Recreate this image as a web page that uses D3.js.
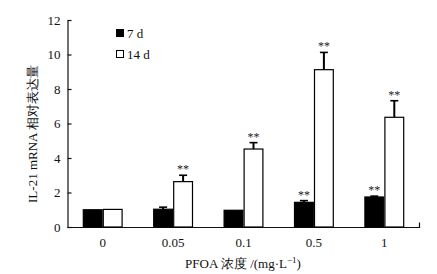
<!DOCTYPE html>
<html><head><meta charset="utf-8">
<script src="https://cdn.jsdelivr.net/npm/d3@7/dist/d3.min.js"></script>
<style>body{margin:0;background:#fff}svg{display:block}</style>
</head><body>
<script>
const categories = ["0", "0.05", "0.1", "0.5", "1"];
const seriesNames = ["7 d", "14 d"];
const values7d = [1.0, 1.03, 0.97, 1.43, 1.74];
const err7d = [0, 0.12, 0, 0.1, 0.05];
const sig7d = ["", "", "", "**", "**"];
const values14d = [1.02, 2.63, 4.52, 9.12, 6.36];
const err14d = [0, 0.37, 0.37, 1.0, 0.96];
const sig14d = ["", "**", "**", "**", "**"];
const yTicks = [0, 2, 4, 6, 8, 10, 12];

const W = 437, H = 274;
const font = "'Liberation Serif','Times New Roman',serif";
const svg = d3.select("body").append("svg").attr("width", W).attr("height", H)
  .style("font-family", font);

const x = d3.scaleBand().domain(categories).range([67.5, 419.5]).paddingInner(0).paddingOuter(0);
const barW = 20;
const y = d3.scaleLinear().domain([0, 12]).range([227, 20]);

// axes
const yAxis = d3.axisLeft(y).tickValues(yTicks).tickSizeInner(-4).tickSizeOuter(0).tickPadding(7);
const gy = svg.append("g").attr("transform", "translate(67.5,0)").call(yAxis);
gy.selectAll("text").attr("font-size", 13).attr("font-family", font).attr("fill", "#111");
gy.selectAll("line,path").attr("stroke", "#111").attr("stroke-width", 1.2);

const xAxis = d3.axisBottom(x).tickSize(0).tickPadding(10);
const gx = svg.append("g").attr("transform", "translate(0,227.5)").call(xAxis);
gx.select("path").attr("d", `M67.5,0H419.5V-5`).attr("stroke", "#111").attr("stroke-width", 1.2).attr("fill", "none");
gx.selectAll("text").attr("font-size", 13).attr("font-family", font).attr("fill", "#111");

const series = [
  {name: seriesNames[0], vals: values7d, err: err7d, sig: sig7d, fill: "#000", off: -barW},
  {name: seriesNames[1], vals: values14d, err: err14d, sig: sig14d, fill: "#fff", off: 0}
];

series.forEach(s => {
  const g = svg.append("g");
  categories.forEach((c, i) => {
    const cx = x(c) + x.bandwidth() / 2 + s.off;
    const v = s.vals[i], e = s.err[i];
    const top = y(v + e);
    if (e > 0) {
      g.append("line").attr("x1", cx + barW / 2).attr("x2", cx + barW / 2)
        .attr("y1", y(v)).attr("y2", top).attr("stroke", "#000").attr("stroke-width", 2);
      g.append("line").attr("x1", cx + barW / 2 - 4).attr("x2", cx + barW / 2 + 4)
        .attr("y1", top).attr("y2", top).attr("stroke", "#000").attr("stroke-width", 1.6);
    }
    g.append("rect").attr("x", cx + 0.6).attr("y", y(v))
      .attr("width", barW - 1.2).attr("height", y(0) - y(v))
      .attr("fill", s.fill).attr("stroke", "#000").attr("stroke-width", 1.2);
    if (s.sig[i]) {
      g.append("text").attr("x", cx + barW / 2).attr("y", top - 2)
        .attr("text-anchor", "middle").attr("font-size", 12).attr("fill", "#222")
        .text(s.sig[i]);
    }
  });
});

// legend
const leg = svg.append("g");
series.forEach((s, i) => {
  const ly = 33 + i * 21;
  leg.append("rect").attr("x", 116.5).attr("y", ly - 3.5).attr("width", 7).attr("height", 7)
    .attr("fill", s.fill).attr("stroke", "#000").attr("stroke-width", 1);
  leg.append("text").attr("x", 127).attr("y", ly + 4.5).attr("font-size", 13).attr("fill", "#111").text(s.name);
});

// axis titles
svg.append("text").attr("transform", "translate(37,134) rotate(-90)")
  .attr("text-anchor", "middle").attr("font-size", 13).attr("fill", "#111")
  .text("IL-21 mRNA 相对表达量");
const xt = svg.append("text").attr("x", 243).attr("y", 268).attr("text-anchor", "middle")
  .attr("font-size", 13).attr("fill", "#111");
xt.append("tspan").text("PFOA 浓度 /(mg·L");
xt.append("tspan").attr("dy", -5).attr("font-size", 9).text("−1");
xt.append("tspan").attr("dy", 5).text(")");
</script>
</body></html>
